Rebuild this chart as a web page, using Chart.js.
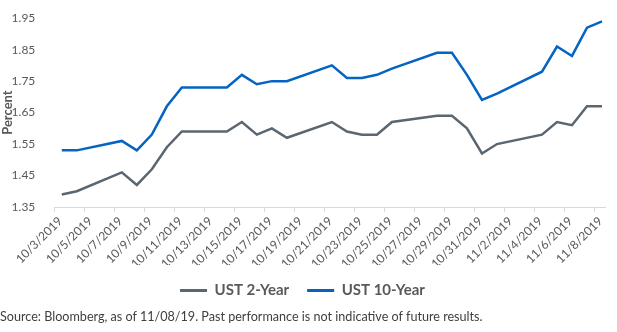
<!DOCTYPE html>
<html>
<head>
<meta charset="utf-8">
<script src="https://cdn.jsdelivr.net/npm/chart.js@4.4.0/dist/chart.umd.min.js"></script>
<style>
  html, body { margin: 0; padding: 0; background: #ffffff; }
  #wrap { position: relative; width: 617px; height: 332px; }
  #c { position: absolute; left: 0; top: 0; }
  #src { position: absolute; left: 0; top: 309px; font-family: Lato, "Open Sans", sans-serif; font-size: 12.6px; color: #404040; white-space: nowrap; }
</style>
</head>
<body>
<div id="wrap">
  <canvas id="c" width="617" height="332"></canvas>
  <div id="src">Source: Bloomberg, as of 11/08/19. Past performance is not indicative of future results.</div>
</div>
<script>
// ---- data ----
const startDate = '10/3/2019';
const dates = ['10/3/2019','10/4/2019','10/7/2019','10/8/2019','10/9/2019','10/10/2019','10/11/2019',
  '10/14/2019','10/15/2019','10/16/2019','10/17/2019','10/18/2019','10/21/2019','10/22/2019','10/23/2019',
  '10/24/2019','10/25/2019','10/28/2019','10/29/2019','10/30/2019','10/31/2019','11/1/2019','11/4/2019',
  '11/5/2019','11/6/2019','11/7/2019','11/8/2019'];
const ust2 = [1.39,1.40,1.46,1.42,1.47,1.54,1.59,1.59,1.62,1.58,1.60,1.57,1.62,1.59,1.58,1.58,1.62,1.64,1.64,1.60,1.52,1.55,1.58,1.62,1.61,1.67,1.67];
const ust10 = [1.53,1.53,1.56,1.53,1.58,1.67,1.73,1.73,1.77,1.74,1.75,1.75,1.80,1.76,1.76,1.77,1.79,1.84,1.84,1.77,1.69,1.71,1.78,1.86,1.83,1.92,1.94];
const yTicks = [1.35,1.45,1.55,1.65,1.75,1.85,1.95];
const seriesNames = ['UST 2-Year','UST 10-Year'];

// ---- helpers ----
function parse(s){ const [m,d,y] = s.split('/').map(Number); return Date.UTC(y, m-1, d); }
const DAY = 86400000;
const t0 = parse(startDate);
function dayIndex(s){ return Math.round((parse(s) - t0) / DAY); }
function labelFor(i){ const d = new Date(t0 + i*DAY); return (d.getUTCMonth()+1) + '/' + d.getUTCDate() + '/' + d.getUTCFullYear(); }
function pts(vals){ return dates.map((s,i) => ({x: dayIndex(s) + 0.5, y: vals[i]})); }

const colors = ['#5B6670', '#0563C1'];
const FONT = 'Lato, "Open Sans", sans-serif';

new Chart(document.getElementById('c'), {
  type: 'line',
  data: {
    datasets: [
      { label: seriesNames[0], data: pts(ust2), borderColor: colors[0], backgroundColor: colors[0], borderWidth: 2.5, pointRadius: 0, tension: 0 },
      { label: seriesNames[1], data: pts(ust10), borderColor: colors[1], backgroundColor: colors[1], borderWidth: 2.5, pointRadius: 0, tension: 0 }
    ]
  },
  options: {
    responsive: false,
    animation: false,
    events: [],
    layout: { padding: { left: 0, right: 12, top: 11, bottom: 24 } },
    plugins: {
      tooltip: { enabled: false },
      legend: {
        position: 'bottom',
        labels: {
          font: { family: FONT, size: 15, weight: 'bold' },
          color: '#595959',
          boxWidth: 27,
          boxHeight: 3,
          padding: 18,
          generateLabels(chart) {
            return chart.data.datasets.map((ds, i) => ({
              text: ds.label, fillStyle: ds.borderColor, strokeStyle: ds.borderColor,
              lineWidth: 0, hidden: false, datasetIndex: i, fontColor: '#595959'
            }));
          }
        }
      }
    },
    scales: {
      x: {
        type: 'linear',
        min: 0,
        max: 36.7,
        afterFit(s) { s.height = 58; },
        border: { display: true, color: '#D9D9D9', width: 1 },
        grid: { display: true, drawOnChartArea: false, drawTicks: true, tickLength: 5, color: '#D9D9D9' },
        ticks: {
          stepSize: 2,
          includeBounds: false,
          autoSkip: false,
          maxRotation: 45,
          minRotation: 45,
          padding: 2,
          labelOffset: 6,
          color: '#595959',
          font: { family: FONT, size: 12 },
          callback: (v) => labelFor(v)
        }
      },
      y: {
        min: 1.35,
        max: 1.95,
        afterFit(s) { s.width = 54.3; },
        afterBuildTicks(s) { s.ticks = yTicks.map(v => ({ value: v })); },
        border: { display: false },
        grid: { display: false },
        title: { display: true, text: 'Percent', color: '#595959', padding: 0, font: { family: FONT, size: 13, weight: 'bold' } },
        ticks: {
          stepSize: 0.1,
          padding: 11,
          color: '#595959',
          font: { family: FONT, size: 12 },
          callback: (v) => Number(v).toFixed(2)
        }
      }
    }
  }
});
</script>
</body>
</html>
